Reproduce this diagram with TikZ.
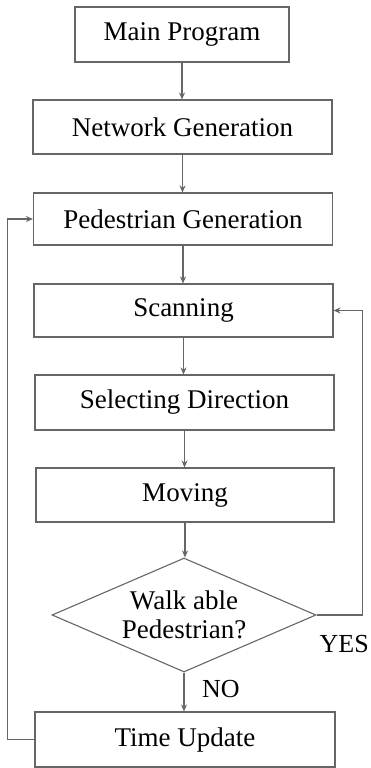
\documentclass[tikz,border=0pt]{standalone}
\usepackage{fontspec}
\setmainfont{Liberation Serif}
\usetikzlibrary{shapes.geometric,arrows.meta}
\tikzset{
  box/.style={draw=black!60, line width=1.1pt, minimum width=299pt, minimum height=54pt, inner sep=0pt, font=\fontsize{27}{29}\selectfont},
  arr/.style={draw=black!60, line width=1.1pt, -{Stealth[length=7pt,width=6pt]}},
  lbl/.style={font=\fontsize{26}{29}\selectfont, inner sep=0pt}
}
\begin{document}
\begin{tikzpicture}[x=1pt,y=-1pt]
\useasboundingbox (0,0) rectangle (370,768);
\node[box, minimum width=214pt, minimum height=55pt] (main) at (182,34.5) {Main Program};
\node[box] (net) at (182.5,127) {Network Generation};
\node[box, minimum height=52pt] (ped) at (183,219) {Pedestrian Generation};
\node[box, minimum height=53pt] (scan) at (183.5,310.5) {Scanning};
\node[box, minimum height=55pt] (sel) at (184.5,402.5) {Selecting Direction};
\node[box, minimum width=298pt] (mov) at (185,495) {Moving};
\node[draw=black!60, line width=1.1pt, diamond, aspect=2.3, minimum width=264pt, minimum height=114pt, inner sep=0pt, align=center, font=\fontsize{27}{29}\selectfont] (dia) at (184,615) {Walk able\\Pedestrian?};
\node[box, minimum width=300pt, minimum height=55pt] (time) at (185,739.5) {Time Update};
\node[lbl, anchor=east] (yes) at (369,644) {YES};
\node[lbl] (no) at (221,689) {NO};
\draw[arr] (main.south) -- (main.south |- net.north);
\draw[arr] (net.south) -- (net.south |- ped.north);
\draw[arr] (ped.south) -- (ped.south |- scan.north);
\draw[arr] (scan.south) -- (scan.south |- sel.north);
\draw[arr] (sel.south) -- (sel.south |- mov.north);
\draw[arr] (mov.south) -- (mov.south |- dia.north);
\draw[arr] (dia.south) -- (dia.south |- time.north);
\draw[arr] (time.west) -- ++(-27,0) |- (ped.west);
\draw[arr] (dia.east) -- ++(46,0) |- (scan.east);
\end{tikzpicture}
\end{document}
